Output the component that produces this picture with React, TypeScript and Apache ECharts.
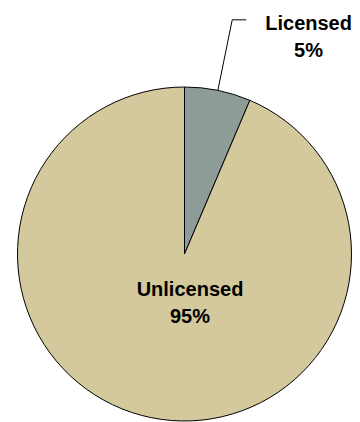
import React, { useEffect, useRef } from "react";
import * as echarts from "echarts";

const categories = ["Licensed", "Unlicensed"];
const sliceShares = [6.4, 93.6];
const percentLabels = ["5%", "95%"];
const sliceColors = ["#8E9C98", "#D4C99C"];

const FONT = "'Liberation Sans', Arial, Helvetica, sans-serif";

export default function App() {
  const ref = useRef<HTMLDivElement>(null);
  useEffect(() => {
    if (!ref.current) return;
    const chart = echarts.init(ref.current, null, { renderer: "svg" });
    const data = categories.map((name, i) => {
      const isSmall = i === 0;
      return {
        name,
        value: sliceShares[i],
        itemStyle: { color: sliceColors[i] },
        label: isSmall
          ? {
              show: true,
              position: "outside",
              formatter: `{a|${name}}\n{a|${percentLabels[i]}}`,
              distanceToLabelLine: 19,
              padding: [33, 0, 0, 0],
              rich: {
                a: {
                  fontFamily: FONT,
                  fontSize: 20,
                  fontWeight: "bold",
                  color: "#000",
                  lineHeight: 27,
                  align: "center",
                },
              },
            }
          : {
              show: true,
              position: "center",
              formatter: `${name}\n${percentLabels[i]}`,
              fontFamily: FONT,
              fontSize: 20,
              fontWeight: "bold",
              color: "#000",
              lineHeight: 27,
            },
        labelLine: isSmall
          ? { show: true, length: 72, length2: 14, smooth: false, lineStyle: { color: "#000", width: 1 } }
          : { show: false },
      };
    });
    chart.setOption({
      animation: false,
      backgroundColor: "#fff",
      series: [
        {
          type: "pie",
          center: [184.5, 254],
          radius: 167,
          startAngle: 90,
          clockwise: true,
          avoidLabelOverlap: false,
          itemStyle: { borderColor: "#000", borderWidth: 1 },
          emphasis: { disabled: true },
          labelLayout: (params: any) =>
            params.dataIndex === 1 ? { dx: 5.5, dy: 48 } : undefined,
          data,
        },
      ],
    });
    return () => chart.dispose();
  }, []);
  return (
    <div
      ref={ref}
      style={{ position: "fixed", left: 0, top: 0, width: 360, height: 422 }}
    />
  );
}
